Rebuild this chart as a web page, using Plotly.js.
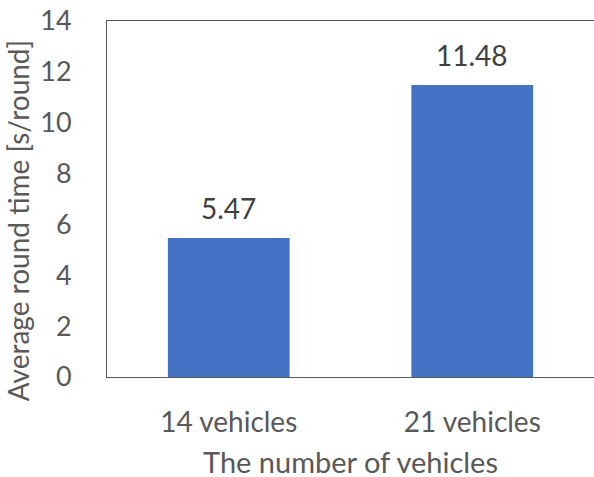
<!DOCTYPE html>
<html>
<head>
<meta charset="utf-8">
<script src="https://cdn.plot.ly/plotly-3.0.1.min.js"></script>
<style>html,body{margin:0;padding:0;background:#fff;}#chart{width:594px;height:477px;}</style>
</head>
<body>
<div id="chart"></div>
<script>
const categories = ["14 vehicles", "21 vehicles"];
const values = [5.47, 11.48];
const labels = ["5.47", "11.48"];
const yTicks = [0, 2, 4, 6, 8, 10, 12, 14];

const FONT = "Lato, 'Open Sans', sans-serif";
const TXT = "#595959";

const trace = {
  type: "bar",
  x: categories,
  y: values,
  width: 0.5,
  marker: {color: "#4472C4"},
  hoverinfo: "skip"
};

const annotations = categories.map((c, i) => ({
  x: c, y: values[i], xref: "x", yref: "y",
  text: labels[i], showarrow: false,
  yanchor: "bottom", yshift: 11,
  font: {family: FONT, size: 28, color: "#404040"}
}));
annotations.push({
  xref: "paper", yref: "paper", x: -0.183, y: 0.44,
  xanchor: "center", yanchor: "middle",
  text: "Average round time [s/round]", textangle: -90, showarrow: false,
  font: {family: FONT, size: 28, color: TXT}
});
annotations.push({
  xref: "paper", yref: "paper", x: 0.5, y: -0.236,
  xanchor: "center", yanchor: "middle",
  height: 30, valign: "middle", borderpad: 0,
  text: "The number of vehicles", showarrow: false,
  font: {family: FONT, size: 29, color: TXT}
});

const layout = {
  width: 594, height: 477,
  margin: {l: 107, r: 0, t: 21, b: 100},
  paper_bgcolor: "#fff", plot_bgcolor: "#fff",
  showlegend: false,
  font: {family: FONT, size: 28, color: TXT},
  xaxis: {
    type: "category", range: [-0.5, 1.5],
    showline: true, mirror: true, linecolor: "#595959", linewidth: 1,
    showgrid: false, zeroline: false, ticks: "", ticklabelstandoff: 20,
    tickfont: {family: FONT, size: 28, color: TXT}
  },
  yaxis: {
    range: [0, 14], tickvals: yTicks, ticktext: yTicks.map(String),
    showline: true, mirror: true, linecolor: "#595959", linewidth: 1,
    showgrid: false, zeroline: false, ticks: "", ticklabelstandoff: 29,
    tickfont: {family: FONT, size: 27, color: TXT}
  },
  annotations: annotations
};

Plotly.newPlot("chart", [trace], layout, {displayModeBar: false, staticPlot: true});
</script>
</body>
</html>
